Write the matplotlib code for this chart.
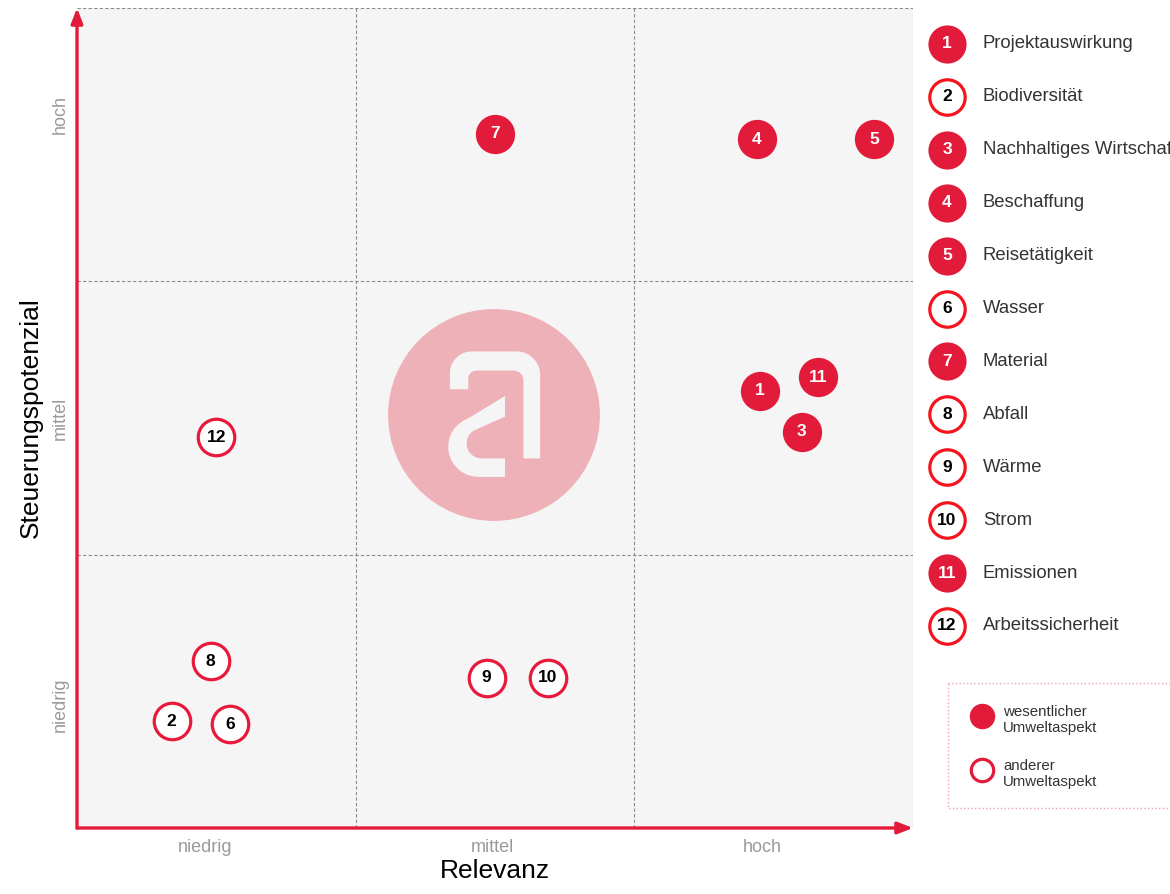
import numpy as np
import matplotlib.pyplot as plt
from matplotlib.patches import Circle, Polygon, Rectangle

plt.rcParams['font.family'] = ['Liberation Sans', 'DejaVu Sans']

# Data
ids = [1, 2, 3, 4, 5, 6, 7, 8, 9, 10, 11, 12]
names = ['Projektauswirkung', 'Biodiversität', 'Nachhaltiges Wirtschaften', 'Beschaffung',
         'Reisetätigkeit', 'Wasser', 'Material', 'Abfall', 'Wärme', 'Strom',
         'Emissionen', 'Arbeitssicherheit']
relevanz = [2.45, 0.34, 2.60, 2.44, 2.86, 0.55, 1.50, 0.48, 1.47, 1.69, 2.66, 0.50]
steuerung = [1.60, 0.39, 1.45, 2.52, 2.52, 0.38, 2.54, 0.61, 0.55, 0.55, 1.65, 1.43]
wesentlich = [True, False, True, True, True, False, True, False, False, False, True, False]
levels = ['niedrig', 'mittel', 'hoch']
x_tick_pos = [0.46, 1.49, 2.46]
y_tick_pos = [0.45, 1.50, 2.61]
key_labels = ['wesentlicher\nUmweltaspekt', 'anderer\nUmweltaspekt']

RED = '#e31b3b'
RING = '#e8193a'
RING_LEG = '#f5141e'
GRAY_TXT = '#9a9a9a'

W, H = 1170, 894
fig = plt.figure(figsize=(W / 100, H / 100), dpi=100)
fig.patch.set_facecolor('white')

# main matrix
ax = fig.add_axes([77 / W, 66 / H, 836 / W, 820 / H])
ax.set_xlim(0, 3)
ax.set_ylim(0, 3)
ax.set_facecolor('#f5f5f5')
for s in ax.spines.values():
    s.set_visible(False)
for v in [1, 2, 3]:
    ax.axvline(v, color='#8c8c8c', lw=0.8, ls=(0, (3, 2)), zorder=1)
    ax.axhline(v, color='#8c8c8c', lw=0.8, ls=(0, (3, 2)), zorder=1)

ax.set_xticks(x_tick_pos)
ax.set_xticklabels(levels, color=GRAY_TXT, fontsize=13)
ax.set_yticks(y_tick_pos)
ax.set_yticklabels(levels, color=GRAY_TXT, fontsize=13, rotation=90, va='center')
ax.tick_params(axis='x', length=0, pad=8)
ax.tick_params(axis='y', length=0, pad=6)
ax.set_xlabel('Relevanz', fontsize=19, labelpad=2)
ax.set_ylabel('Steuerungspotenzial', fontsize=19, labelpad=6)

# red axis arrows
arrow = dict(arrowstyle='-|>,head_length=0.9,head_width=0.35', color=RED, lw=2.4, shrinkA=0, shrinkB=0)
ax.annotate('', xy=(0, 1.0), xytext=(0, 0), xycoords='axes fraction', arrowprops=arrow, annotation_clip=False)
ax.annotate('', xy=(1.0, 0), xytext=(0, 0), xycoords='axes fraction', arrowprops=arrow, annotation_clip=False)

# points
for i, x, y, w in zip(ids, relevanz, steuerung, wesentlich):
    if w:
        ax.scatter(x, y, s=690, facecolor=RED, edgecolor=RED, lw=2, zorder=5)
        ax.text(x, y, str(i), color='white', fontsize=12.5, fontweight='bold', ha='center', va='center', zorder=6)
    else:
        ax.scatter(x, y, s=690, facecolor='white', edgecolor=RING, lw=2.3, zorder=5)
        ax.text(x, y, str(i), color='black', fontsize=12.5, fontweight='bold', ha='center', va='center', zorder=6)

# logo in the centre
lax = fig.add_axes([387 / W, (H - 522) / H, 214 / W, 214 / H])
lax.set_xlim(-1, 1)
lax.set_ylim(-1, 1)
lax.axis('off')
lax.patch.set_alpha(0)
lax.add_patch(Circle((0, 0), 0.99, color='#eeb1b8', lw=0))


def arc(cx, cy, r, t0, t1, n=16):
    t = np.radians(np.linspace(t0, t1, n))
    return list(zip(cx + r * np.cos(t), cy - r * np.sin(t)))


def norm(pts):
    return [((zx - 342) / 320, -(zy - 345) / 320) for zx, zy in pts]


arch = ([(210, 268)] + arc(275, 220, 65, 180, 90) + arc(410, 225, 70, 90, 0)
        + [(480, 475), (430, 475)] + arc(400, 242, 30, 0, 90) + arc(290, 237, 25, 90, 180)
        + [(265, 268)])
bowl = ([(375, 288)] + arc(295, 440, 90, 110, 270) + [(375, 530), (375, 475)]
        + arc(305, 430, 45, 270, 120) + [(375, 350)])
lax.add_patch(Polygon(norm(arch), closed=True, color='#f5f5f5', lw=0))
lax.add_patch(Polygon(norm(bowl), closed=True, color='#f5f5f5', lw=0))

# legend on the right, in pixel coordinates
gax = fig.add_axes([920 / W, 0, 250 / W, 1])
gax.set_xlim(920, 1170)
gax.set_ylim(H, 0)
gax.axis('off')
for k, (i, name, w) in enumerate(zip(ids, names, wesentlich)):
    yy = 44 + k * 52.9
    if w:
        gax.scatter(947, yy, s=650, facecolor=RED, edgecolor=RED, lw=2)
        gax.text(947, yy, str(i), color='white', fontsize=12.5, fontweight='bold', ha='center', va='center')
    else:
        gax.scatter(947, yy, s=650, facecolor='white', edgecolor=RING_LEG, lw=2.3)
        gax.text(947, yy, str(i), color='black', fontsize=12.5, fontweight='bold', ha='center', va='center')
    gax.text(983, yy, name, color='#333333', fontsize=13.3, ha='left', va='center')

gax.add_patch(Rectangle((948, 683), 240, 125, fill=False, edgecolor='#f4a0a6', lw=1, ls=':', clip_on=False))
gax.scatter(982, 716, s=300, facecolor=RED, edgecolor=RED, lw=1)
gax.scatter(982, 770, s=260, facecolor='white', edgecolor=RED, lw=2.3)
gax.text(1003, 720, key_labels[0], fontsize=10.8, color='#333333', ha='left', va='center', linespacing=1.1)
gax.text(1003, 774, key_labels[1], fontsize=10.8, color='#333333', ha='left', va='center', linespacing=1.1)

fig.savefig('out.png', dpi=100)
